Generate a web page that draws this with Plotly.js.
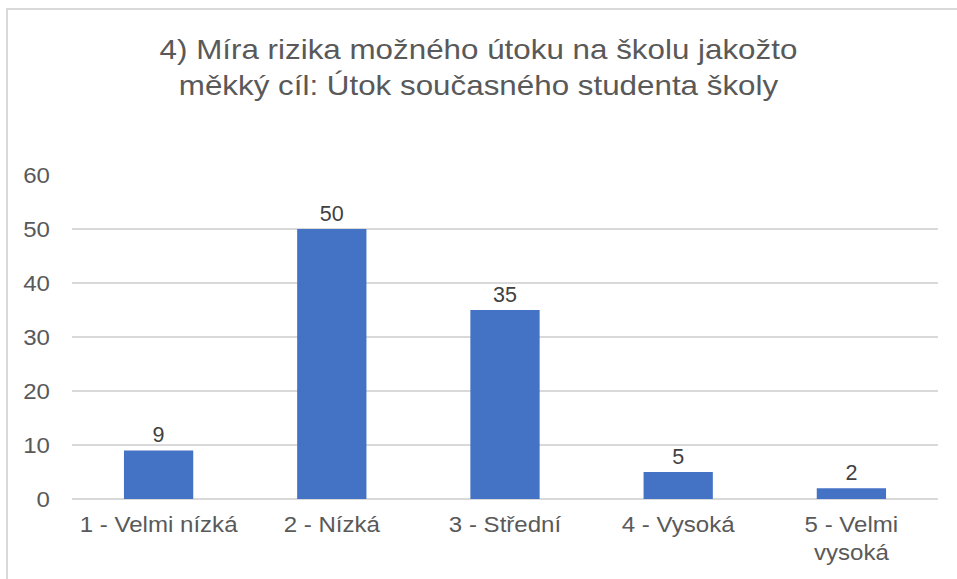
<!DOCTYPE html>
<html>
<head>
<meta charset="utf-8">
<script src="https://cdn.plot.ly/plotly-3.0.1.min.js"></script>
<style>
  html, body { margin: 0; padding: 0; background: #ffffff; }
  #wrap { position: relative; width: 957px; height: 579px; overflow: hidden; }
  #chart { position: absolute; left: 0; top: 0; width: 957px; height: 579px; }
  #frame { position: absolute; left: 6px; top: 8px; width: 1000px; height: 1000px;
           border-left: 2px solid #d9d9d9; border-top: 2px solid #d9d9d9; pointer-events: none; }
</style>
</head>
<body>
<div id="wrap">
  <div id="chart"></div>
  <div id="frame"></div>
</div>
<script>
const titleLines = ["4) Míra rizika možného útoku na školu jakožto", "měkký cíl: Útok současného studenta školy"];
const categories = ["1 - Velmi nízká", "2 - Nízká", "3 - Střední", "4 - Vysoká", "5 - Velmi<br>vysoká"];
const values = [9, 50, 35, 5, 2];
const yTicks = [0, 10, 20, 30, 40, 50, 60];

const FONT = "Liberation Sans, Arial, sans-serif";

const trace = {
  type: "bar",
  x: categories,
  y: values,
  marker: { color: "#4472C4" },
  text: values.map(String),
  textposition: "outside",
  cliponaxis: false,
  textfont: { family: FONT, size: 21.5, color: "#404040" },
  hoverinfo: "x+y"
};

const layout = {
  width: 957,
  height: 579,
  paper_bgcolor: "#ffffff",
  plot_bgcolor: "#ffffff",
  margin: { l: 72, r: 19, t: 175, b: 80, pad: 0 },
  showlegend: false,
  bargap: 0.6,
  title: {
    text: titleLines.join("<br>"),
    font: { family: FONT, size: 28, color: "#595959" },
    x: 0.5, xanchor: "center",
    y: 1 - 59 / 579, yanchor: "middle", yref: "container"
  },
  xaxis: {
    type: "category",
    showgrid: false,
    showline: false,
    zeroline: false,
    ticks: "",
    ticklabelstandoff: 11,
    tickfont: { family: FONT, size: 21.5, color: "#595959" }
  },
  yaxis: {
    range: [0, 60],
    tickvals: yTicks,
    showgrid: true,
    gridcolor: "#d9d9d9",
    gridwidth: 1.5,
    zeroline: true,
    zerolinecolor: "#d9d9d9",
    zerolinewidth: 1.5,
    showline: false,
    ticks: "",
    ticklabelstandoff: 21,
    tickfont: { family: FONT, size: 21.5, color: "#595959" }
  }
};

// The reference text is rendered slightly wider than Arial; widen the glyphs horizontally around their anchor.
function widen(selector, s) {
  document.querySelectorAll(selector).forEach(function (t) {
    const x = parseFloat(t.getAttribute("x")) || 0;
    const prev = t.getAttribute("transform") || "";
    t.setAttribute("transform", prev + " translate(" + x + ",0) scale(" + s + ",1) translate(" + (-x) + ",0)");
  });
}

Plotly.newPlot("chart", [trace], layout, { displayModeBar: false, staticPlot: true }).then(function () {
  widen("#chart .gtitle", 1.12);
  widen("#chart .xtick text", 1.12);
  widen("#chart .ytick text", 1.12);
  widen("#chart .textpoint text", 1.12);
});
</script>
</body>
</html>
